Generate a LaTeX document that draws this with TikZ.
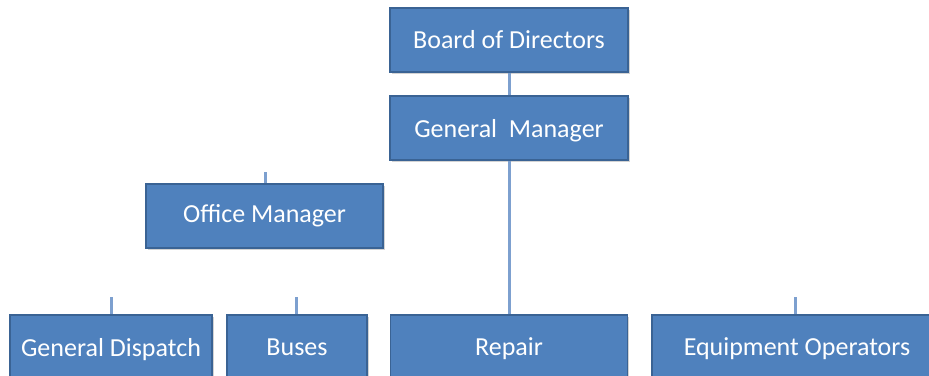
\documentclass[tikz,border=0pt]{standalone}
\usepackage{fontspec}
\setmainfont{Carlito}
\usetikzlibrary{shadows}
\definecolor{boxfill}{HTML}{4F81BD}
\definecolor{boxedge}{HTML}{3A6394}
\definecolor{linkblue}{HTML}{7DA0CF}
\begin{document}
\begin{tikzpicture}[x=1pt,y=-1pt,
  orgbox/.style={draw=boxedge,line width=1.2pt,fill=boxfill,
    drop shadow={shadow xshift=1.5pt,shadow yshift=-1.5pt,opacity=0.35},
    text=white,font=\fontsize{26}{30}\selectfont,inner sep=0pt},
  link/.style={draw=linkblue,line width=3pt}]
\useasboundingbox (0,0) rectangle (929,375);
\clip (0,0) rectangle (929,375);
% top of the chart
\node[orgbox,minimum width=238pt,minimum height=64pt] (board) at (509,40) {Board of Directors};
\node[orgbox,minimum width=238pt,minimum height=64pt,text depth=-4pt] (gm) at (509,128) {General\ \ Manager};
\node[orgbox,minimum width=237pt,minimum height=64pt] (office) at (264.5,216) {Office Manager};
% bottom row, running off the lower edge
\node[orgbox,minimum width=202pt,minimum height=64pt,text depth=-20pt] (dispatch) at (111,347) {General Dispatch};
\node[orgbox,minimum width=140pt,minimum height=64pt,text depth=-20pt] (buses) at (297,347) {Buses};
\node[orgbox,minimum width=237pt,minimum height=64pt,text depth=-20pt] (repair) at (509,347) {Repair};
\node[orgbox,minimum width=290pt,minimum height=64pt,text depth=-20pt] (equip) at (797,347) {Equipment Operators};
% connectors
\draw[link] (board.south) -- (gm.north);
\draw[link] (gm.south) -- (repair.north);
% short stubs above the other boxes
\coordinate (officestub) at (265,172);
\coordinate (dispstub) at (111,297);
\coordinate (busstub) at (296,297);
\coordinate (equipstub) at (795,297);
\draw[link] (officestub) -- (officestub |- office.north);
\draw[link] (dispstub) -- (dispstub |- dispatch.north);
\draw[link] (busstub) -- (busstub |- buses.north);
\draw[link] (equipstub) -- (equipstub |- equip.north);
\end{tikzpicture}
\end{document}
